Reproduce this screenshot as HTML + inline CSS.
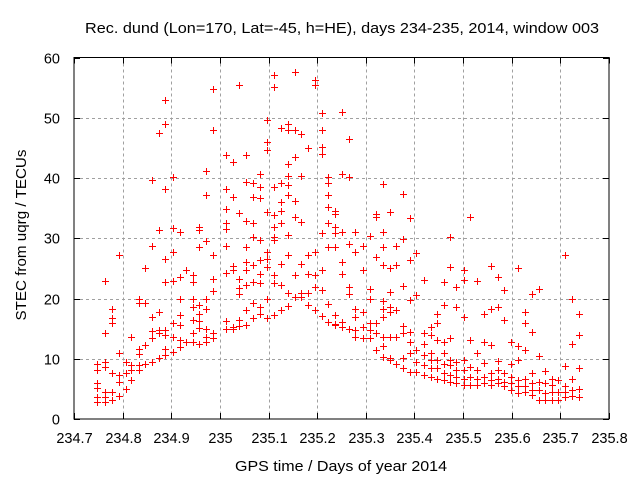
<!DOCTYPE html>
<html><head><meta charset="utf-8"><style>
body{margin:0;background:#fff}
svg{display:block;font-family:"Liberation Sans",sans-serif}
</style></head><body>
<svg id="chart" width="640" height="480" viewBox="0 0 640 480">
<rect width="640" height="480" fill="#fff"/>
<text x="342" y="33" font-size="15" text-anchor="middle" textLength="514" lengthAdjust="spacingAndGlyphs">Rec. dund (Lon=170, Lat=-45, h=HE), days 234-235, 2014, window 003</text>
<g id="grid"></g>
<g id="marks"></g>
<rect x="74" y="57.5" width="535" height="361.5" fill="none" stroke="#000" stroke-width="1"/>
<g id="ticks"></g>
<text x="341" y="471" font-size="15" text-anchor="middle" textLength="212" lengthAdjust="spacingAndGlyphs">GPS time / Days of year 2014</text>
<text transform="translate(26,235) rotate(-90)" font-size="15" text-anchor="middle" textLength="171" lengthAdjust="spacingAndGlyphs">STEC from uqrg / TECUs</text>
</svg>
<script>
const xTicks=[234.7,234.8,234.9,235,235.1,235.2,235.3,235.4,235.5,235.6,235.7,235.8];
const xTickLabels=["234.7","234.8","234.9","235","235.1","235.2","235.3","235.4","235.5","235.6","235.7","235.8"];
const yTicks=[0,10,20,30,40,50,60];
const yTickLabels=["0","10","20","30","40","50","60"];
const groupX=[234.748,234.763,234.778,234.792,234.807,234.818,234.834,234.846,234.860,234.874,234.888,234.903,234.918,234.931,234.945,234.957,234.971,234.986,235.013,235.026,235.040,235.054,235.068,235.082,235.097,235.111,235.125,235.140,235.154,235.167,235.181,235.195,235.209,235.223,235.237,235.251,235.265,235.278,235.294,235.308,235.320,235.335,235.349,235.362,235.377,235.390,235.404,235.419,235.433,235.446,235.460,235.473,235.486,235.501,235.515,235.529,235.544,235.558,235.571,235.584,235.599,235.612,235.627,235.641,235.656,235.668,235.682,235.695,235.709,235.723,235.738];
const groupY=[
[2.9,3.7,5.2,5.9,8.1,9.1],
[2.9,3.7,4.4,8.6,9.5,14.2,22.9],
[3.1,4.4,7.6,16.0,16.7,18.2],
[3.8,6.2,7.3,11.0,27.3],
[4.9,7.7,9.5],
[6.5,8.1,9.0,13.6],
[8.1,9.0,10.8,11.7,19.2,20.0],
[9.2,12.3,25.1,19.3],
[9.5,13.5,14.6,16.9,28.7,39.7],
[10.1,14.8,14.2,17.7,31.3,47.5],
[10.6,11.7,13.9,14.8,22.7,26.5,38.1,53.0,49.0],
[11.2,13.6,16.0,22.9,27.8,40.2,31.7],
[11.9,13.1,15.6,17.2,20.0,23.5,31.0],
[12.7,24.7],
[12.7,14.2,16.4,18.6,20.0,22.7,23.9],
[12.5,15.1,16.2,17.5,18.9,28.5,31.4,31.9],
[12.7,13.6,14.9,18.2,20.0,29.5,37.1,41.1],
[13.4,14.3,21.3,23.3,27.3,47.9,54.8],
[14.9,16.3,24.3,28.7,31.6,32.5,34.9,38.2,43.8],
[15.0,15.3,24.7,25.4,36.9,42.7],
[15.4,16.4,20.8,21.8,23.3,34.2,55.4],
[15.6,18.1,22.2,24.7,26.1,28.5,32.9,39.4,43.8],
[16.7,19.2,22.8,25.5,30.2,32.5,36.9,39.1],
[17.4,18.6,22.5,24.1,26.4,29.7,36.6,38.5,40.7],
[16.7,20.0,25.2,26.6,27.7,34.4,44.6,46.0,49.6],
[17.2,22.6,23.9,29.7,30.2,31.9,33.8,38.5,55.1,57.1],
[18.1,22.2,25.8,32.5,34.6,36.0,39.2,48.3],
[18.8,20.9,27.3,30.5,37.1,38.8,40.3,42.3,47.9,48.9],
[20.2,23.9,36.2,33.5,43.5,48.0,57.6],
[20.3,20.9,25.8,32.7,40.3,47.3],
[18.9,20.9,24.1,27.3,44.9],
[18.1,21.9,23.9,27.8,56.2,55.5],
[17.1,21.4,24.7,30.8,47.9,50.8,44.0,45.2],
[16.1,19.1,28.6,32.5,35.2,37.1,39.1,40.2],
[15.6,15.8,17.2,28.6,34.6,34.1,30.8,31.9],
[15.3,16.1,24.1,26.1,31.0,40.7,50.9],
[15.0,20.8,21.9,29.1,40.1,46.5],
[13.6,14.8,17.0,18.3,31.0,27.7],
[13.5,15.3,17.8,24.7,28.7],
[13.4,14.8,16.0,20.0,21.5,30.3],
[11.4,14.2,16.0,26.9,33.5,34.1],
[10.3,12.1,13.6,17.0,18.3,19.6,25.5,28.6,31.0,39.0],
[9.8,10.1,13.6,17.8,18.6,21.1,25.0,34.4],
[9.2,13.6,18.1,25.5,28.7],
[8.4,10.1,14.2,15.4,22.0,29.9,37.4],
[7.8,10.9,12.8,14.5,19.7,26.4,33.4],
[7.8,9.5,11.4,20.5,27.5],
[7.3,9.0,10.6,12.5,14.3,23.1],
[7.0,8.4,9.8,10.9,13.9,15.2],
[6.7,8.4,9.8,13.1,16.0,17.5],
[6.5,7.6,9.2,10.9,12.8,18.9,22.7],
[6.2,7.3,9.0,9.8,13.5,25.2,30.2],
[5.9,7.0,8.1,9.5,18.6,21.9],
[5.6,6.7,8.1,9.8,16.9,23.1,24.8],
[5.6,6.9,8.7,13.1,33.5],
[5.6,6.7,8.1,10.9,22.9],
[5.9,6.9,9.3,12.8,17.5],
[5.6,6.5,7.6,12.3,18.3,25.4],
[5.9,6.7,8.1,9.6,18.6,23.6],
[5.4,6.2,7.6,16.4,21.4],
[4.8,5.9,7.0,9.2,12.8],
[4.3,5.4,6.5,9.8,12.1,25.0],
[4.5,5.4,6.7,11.5,16.0,17.8],
[4.0,4.8,5.9,7.6,14.5,20.8],
[3.1,4.8,6.2,10.4,21.6],
[3.1,4.3,5.9,8.0],
[3.1,4.5,5.6,6.7],
[3.1,4.5,6.5],
[3.7,4.5,5.4,8.8,27.2],
[3.8,4.8,6.7,12.4,20.0],
[3.6,4.9,8.4,13.9,17.4]
];
const NS="http://www.w3.org/2000/svg";
const X0=74,X1=609,Y0=419,Y1=57.5,XMIN=234.7,XMAX=235.8,YMIN=0,YMAX=60;
function sx(v){return X0+(v-XMIN)/(XMAX-XMIN)*(X1-X0);}
function sy(v){return Y0-(v-YMIN)/(YMAX-YMIN)*(Y0-Y1);}
function mk(t,a){const e=document.createElementNS(NS,t);for(const k in a)e.setAttribute(k,a[k]);return e;}
const grid=document.getElementById('grid'),ticks=document.getElementById('ticks'),marks=document.getElementById('marks');
xTicks.forEach((v,i)=>{
  const x=Math.round(sx(v))+0.5;
  if(i>0&&i<xTicks.length-1){
    const g=mk('line',{x1:x,x2:x,y1:Y1,y2:Y0,stroke:'#a0a0a0','stroke-dasharray':'3,3'});
    
    
    grid.appendChild(g);
  }
  const t1=mk('line',{x1:x,x2:x,y1:Y0,y2:Y0-6,stroke:'#000'});
  
  
  ticks.appendChild(t1);
  const t2=mk('line',{x1:x,x2:x,y1:Y1,y2:Y1+6,stroke:'#000'});
  
  
  ticks.appendChild(t2);
  const l=mk('text',{x:x,y:443,'font-size':14.5,'text-anchor':'middle'});
  l.textContent=xTickLabels[i];
  
  
  ticks.appendChild(l);
});
yTicks.forEach((v,i)=>{
  const y=Math.round(sy(v))+0.5;
  if(i>0&&i<yTicks.length-1){
    const g=mk('line',{x1:X0,x2:X1,y1:y,y2:y,stroke:'#a0a0a0','stroke-dasharray':'3,3'});
    
    
    grid.appendChild(g);
  }
  const t1=mk('line',{x1:X0,x2:X0+6,y1:y,y2:y,stroke:'#000'});
  
  
  ticks.appendChild(t1);
  const t2=mk('line',{x1:X1,x2:X1-6,y1:y,y2:y,stroke:'#000'});
  
  
  ticks.appendChild(t2);
  const l=mk('text',{x:60,y:y+5,'font-size':14.5,'text-anchor':'end'});
  l.textContent=yTickLabels[i];
  
  
  ticks.appendChild(l);
});
groupX.forEach((gx,i)=>{
  groupY[i].forEach(v=>{
    const cx=Math.round(sx(gx))+0.5,cy=Math.round(sy(v))+0.5;
    const p=mk('path',{d:`M${cx-3.5},${cy}H${cx+3.5}M${cx},${cy-3.5}V${cy+3.5}`,stroke:'#ff0000','stroke-width':1,fill:'none'});
    
    
    marks.appendChild(p);
  });
});
</script>
</body></html>
